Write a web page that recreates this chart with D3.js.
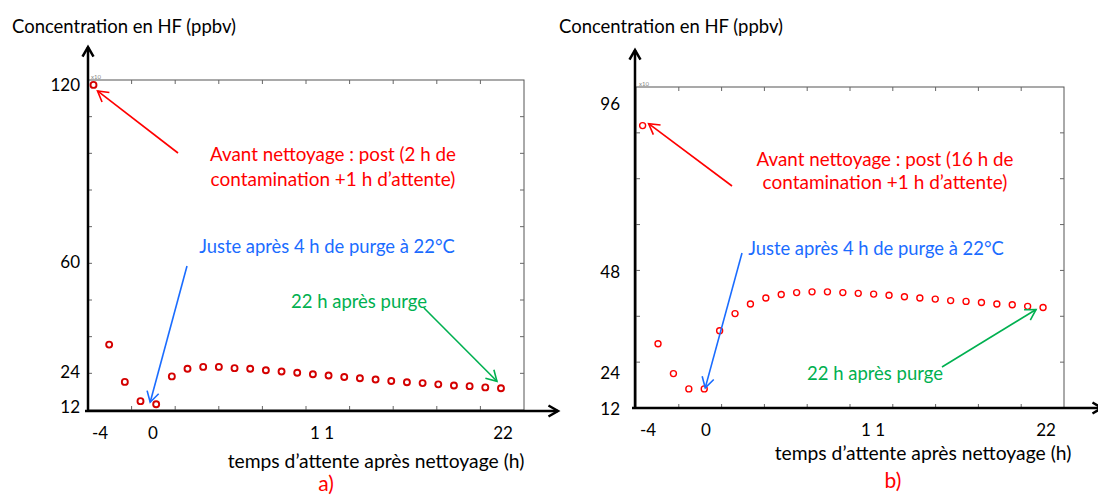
<!DOCTYPE html>
<html>
<head>
<meta charset="utf-8">
<script src="https://cdn.jsdelivr.net/npm/d3@7"></script>
<style>
  html, body { margin: 0; padding: 0; background: #fff; }
  svg { display: block; }
  text { font-family: Lato, "Open Sans", sans-serif; }
</style>
</head>
<body>
<svg id="chart" width="1098" height="499"></svg>
<script>
// hours after cleaning (same sampling for both runs)
const hours = [-4, -3, -2, -1, 0, 1, 2, 3, 4, 5, 6, 7, 8, 9, 10, 11, 12, 13, 14, 15, 16, 17, 18, 19, 20, 21, 22];

// a) 2 h contamination
const concA = [118.4, 33.4, 21.2, 14.9, 13.9, 23.0, 25.5, 26.1, 26.1, 25.7, 25.5, 25.0, 24.6, 24.2,
               23.7, 23.3, 22.8, 22.4, 22.0, 21.5, 21.1, 20.8, 20.4, 20.0, 19.8, 19.4, 19.1];
// b) 16 h contamination
const concB = [85.9, 28.8, 21.0, 17.0, 17.0, 32.2, 36.7, 39.2, 40.8, 41.7, 42.2, 42.4, 42.4, 42.2,
               42.0, 41.8, 41.5, 41.1, 40.8, 40.5, 40.1, 39.9, 39.6, 39.2, 39.0, 38.6, 38.3];

const yLabelsA = [120, 60, 24, 12];
const yLabelsB = [96, 48, 24, 12];
const xLabelValues = [-4, 0, 11, 22];
const xLabelTexts = ["-4", "0", "1 1", "22"];

const yTitle = "Concentration en HF (ppbv)";
const xTitle = "temps d\u2019attente apr\u00e8s nettoyage (h)";
const noteRedA = ["Avant nettoyage : post (2 h de", "contamination +1 h d\u2019attente)"];
const noteRedB = ["Avant nettoyage : post (16 h de", "contamination +1 h d\u2019attente)"];
const noteBlue = "Juste apr\u00e8s 4 h de purge \u00e0 22\u00b0C";
const noteGreen = "22 h apr\u00e8s purge";

const RED = "#ff0000", BLUE = "#1a6cff", GREEN = "#00b050";

const svg = d3.select("#chart");

// layout of the two panels
let panels = [
  {
    conc: concA, yLabels: yLabelsA, tag: "a)",
    box: {left: 88, right: 524, top: 80, bottom: 410},
    xDomain: [-4.35, 23.47], yDomain: [12, 120], yStep: 12,
    axisY: {x: 88, y0: 411, y1: 47}, axisX: {y: 411, x0: 85, x1: 558},
    yLabelPos: [85, 262, 372, 407], yLabelRight: 80,
    xLabelPos: [100, 153, 322, 503], xLabelY: 433,
    title: {x: 124, y: 27}, xTitlePos: {x: 376, y: 461}, tagPos: {x: 326, y: 484},
    dotStroke: "#d40000", dotWidth: 1.9,
    red: {lines: noteRedA, cx: 333, y: [154, 179], from: [178, 153], to: 0, off: [4, 6]},
    blue: {cx: 327, y: 247, from: [187, 266], to: 4, off: [-6, -2]},
    green: {cx: 359, y: 302, from: [424, 308], to: 26, off: [-4, -7]}
  },
  {
    conc: concB, yLabels: yLabelsB, tag: "b)",
    box: {left: 636, right: 1064, top: 87, bottom: 408},
    xDomain: [-4.43, 23.36], yDomain: [12, 96], yStep: 12,
    axisY: {x: 635, y0: 408, y1: 50}, axisX: {y: 408, x0: 632, x1: 1102},
    yLabelPos: [104, 272, 373, 409], yLabelRight: 620,
    xLabelPos: [648, 706, 873, 1046], xLabelY: 430,
    title: {x: 671, y: 27}, xTitlePos: {x: 923, y: 453}, tagPos: {x: 893, y: 481},
    dotStroke: "#ff0000", dotWidth: 1.4,
    red: {lines: noteRedB, cx: 885, y: [159, 182], from: [732, 186], to: 0, off: [6, -2]},
    blue: {cx: 876, y: 249, from: [742, 253], to: 4, off: [1, -1]},
    green: {cx: 875, y: 374, from: [942, 367], to: 26, off: [-7, 2]}
  }
];

function arrow(g, x1, y1, x2, y2, color, width, head) {
  g.append("line").attr("x1", x1).attr("y1", y1).attr("x2", x2).attr("y2", y2)
    .attr("stroke", color).attr("stroke-width", width);
  let ang = Math.atan2(y2 - y1, x2 - x1);
  let spread = Math.PI / 6;
  let pts = [
    [x2 - head * Math.cos(ang - spread), y2 - head * Math.sin(ang - spread)],
    [x2, y2],
    [x2 - head * Math.cos(ang + spread), y2 - head * Math.sin(ang + spread)]
  ];
  g.append("path").attr("d", d3.line()(pts)).attr("fill", "none")
    .attr("stroke", color).attr("stroke-width", width);
}

function fitText(sel, w) {
  let len = sel.node().getComputedTextLength();
  let fs = parseFloat(sel.attr("font-size"));
  sel.attr("font-size", fs * w / len);
}

panels.forEach(function(p){
  let g = svg.append("g").attr("class", "panel");
  let b = p.box;

  let x = d3.scaleLinear().domain(p.xDomain).range([b.left, b.right]);
  let y = d3.scaleLinear().domain(p.yDomain).range([b.bottom, b.top]);

  // thin plot frame with inner ticks
  g.append("rect").attr("x", b.left).attr("y", b.top)
    .attr("width", b.right - b.left).attr("height", b.bottom - b.top)
    .attr("fill", "none").attr("stroke", "#555").attr("stroke-width", 1);

  let xt = d3.range(1, 10).map(i => p.xDomain[0] + i * (p.xDomain[1] - p.xDomain[0]) / 10);
  let yt = d3.range(p.yDomain[0] + p.yStep, p.yDomain[1], p.yStep);
  let tk = g.append("g").attr("stroke", "#666").attr("stroke-width", 1);
  xt.forEach(function(v){
    tk.append("line").attr("x1", x(v)).attr("x2", x(v)).attr("y1", b.top).attr("y2", b.top + 4);
    tk.append("line").attr("x1", x(v)).attr("x2", x(v)).attr("y1", b.bottom).attr("y2", b.bottom - 4);
  });
  yt.forEach(function(v){
    tk.append("line").attr("x1", b.left).attr("x2", b.left + 4).attr("y1", y(v)).attr("y2", y(v));
    tk.append("line").attr("x1", b.right).attr("x2", b.right - 4).attr("y1", y(v)).attr("y2", y(v));
  });
  g.append("text").attr("x", b.left + 3).attr("y", b.top - 1).attr("font-size", 6)
    .attr("fill", "#888").text("x10");

  // hand drawn axes (thick black arrows)
  arrow(g, p.axisY.x, p.axisY.y0, p.axisY.x, p.axisY.y1, "#000", 2.5, 11);
  arrow(g, p.axisX.x0, p.axisX.y, p.axisX.x1, p.axisX.y, "#000", 2.5, 11);

  // tick labels
  let yl = d3.scaleLinear().domain(p.yLabels).range(p.yLabelPos);
  g.selectAll(".ylab").data(p.yLabels).enter().append("text").attr("class", "ylab")
    .attr("x", p.yLabelRight).attr("y", d => yl(d)).attr("dy", "0.35em")
    .attr("text-anchor", "end").attr("font-size", 17).text(d => d);
  let xl = d3.scaleLinear().domain(xLabelValues).range(p.xLabelPos);
  g.selectAll(".xlab").data(xLabelValues).enter().append("text").attr("class", "xlab")
    .attr("x", d => xl(d)).attr("y", p.xLabelY).attr("dy", "0.35em")
    .attr("text-anchor", "middle").attr("font-size", 17).text((d, i) => xLabelTexts[i]);

  // titles
  let t1 = g.append("text").attr("x", p.title.x).attr("y", p.title.y).attr("dy", "0.35em")
    .attr("text-anchor", "middle").attr("font-size", 16).text(yTitle);
  fitText(t1, 224);
  let t2 = g.append("text").attr("x", p.xTitlePos.x).attr("y", p.xTitlePos.y).attr("dy", "0.35em")
    .attr("text-anchor", "middle").attr("font-size", 16).text(xTitle);
  fitText(t2, 297);
  g.append("text").attr("x", p.tagPos.x).attr("y", p.tagPos.y).attr("dy", "0.35em")
    .attr("text-anchor", "middle").attr("font-size", 21).attr("fill", RED).text(p.tag);

  // data points
  g.selectAll(".dot").data(p.conc).enter().append("circle").attr("class", "dot")
    .attr("cx", (d, i) => x(hours[i])).attr("cy", d => y(d)).attr("r", 3)
    .attr("fill", "none").attr("stroke", p.dotStroke).attr("stroke-width", p.dotWidth);

  // annotations
  function tip(a){ return [x(hours[a.to]) + a.off[0], y(p.conc[a.to]) + a.off[1]]; }

  p.red.lines.forEach(function(s, i){
    let t = g.append("text").attr("x", p.red.cx).attr("y", p.red.y[i]).attr("dy", "0.35em")
      .attr("text-anchor", "middle").attr("font-size", 16).attr("fill", RED).text(s);
    fitText(t, i == 0 ? (p.tag == "a)" ? 246 : 257) : 245);
  });
  let rt = tip(p.red);
  arrow(g, p.red.from[0], p.red.from[1], rt[0], rt[1], RED, 1.6, 12);

  let bt0 = g.append("text").attr("x", p.blue.cx).attr("y", p.blue.y).attr("dy", "0.35em")
    .attr("text-anchor", "middle").attr("font-size", 16).attr("fill", BLUE).text(noteBlue);
  fitText(bt0, 256);
  let bt = tip(p.blue);
  arrow(g, p.blue.from[0], p.blue.from[1], bt[0], bt[1], BLUE, 1.6, 12);

  let gt0 = g.append("text").attr("x", p.green.cx).attr("y", p.green.y).attr("dy", "0.35em")
    .attr("text-anchor", "middle").attr("font-size", 16).attr("fill", GREEN).text(noteGreen);
  fitText(gt0, 136);
  let gt = tip(p.green);
  arrow(g, p.green.from[0], p.green.from[1], gt[0], gt[1], GREEN, 1.6, 12);
});
</script>
</body>
</html>
